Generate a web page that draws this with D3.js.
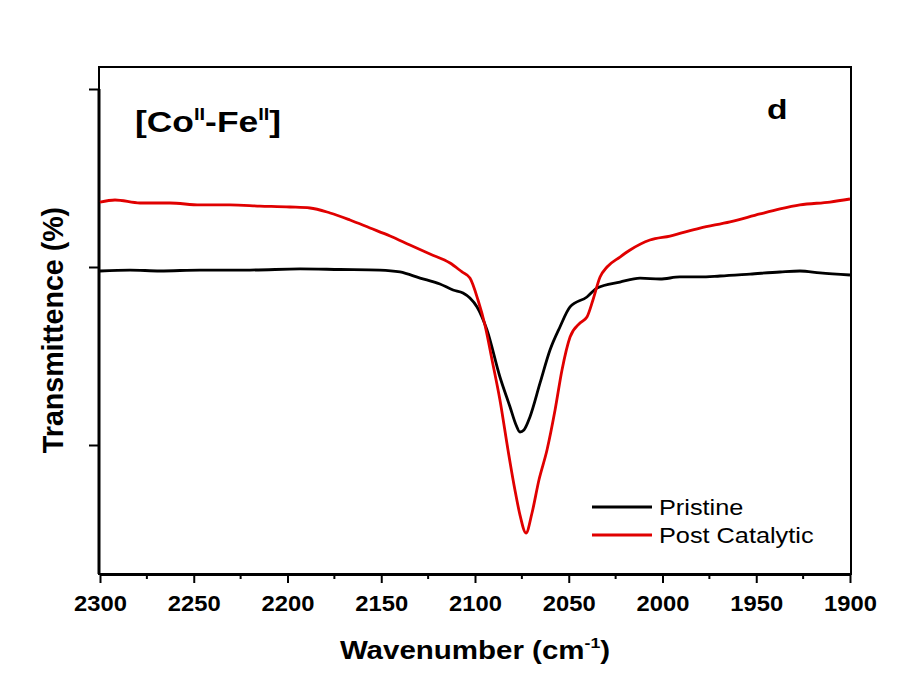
<!DOCTYPE html>
<html>
<head>
<meta charset="utf-8">
<script src="https://cdn.jsdelivr.net/npm/d3@7"></script>
<style>
  body { margin: 0; background: #fff; }
  text { font-family: "Liberation Sans", Arial, sans-serif; }
</style>
</head>
<body>
<script>
var width = 909, height = 682,
  margin = {top: 67, right: 59, bottom: 108, left: 99};

// Pristine spectrum: wavenumber (cm-1) and transmittance
var pristineWn = [2300, 2284, 2268, 2246.7, 2220, 2193.3, 2172, 2150.7, 2140, 2129.3, 2118.7, 2111.7,
  2106.4, 2102.7, 2098.9, 2093.6, 2086.7, 2081.3, 2078.1, 2076, 2073.9, 2070.7, 2065.3, 2060,
  2054.7, 2049.3, 2040.3, 2034.9, 2022.7, 2012, 2001.3, 1990.7, 1980, 1969.3, 1953.3, 1937.3,
  1926.7, 1916, 1900];
var pristineT = [59.55, 59.66, 59.55, 59.66, 59.66, 59.78, 59.72, 59.66, 59.44, 58.76, 58.09, 57.42,
  57.08, 56.52, 55.51, 52.92, 47.64, 44.27, 42.25, 41.46, 41.69, 43.15, 46.97, 50.67,
  53.26, 55.51, 56.63, 57.64, 58.31, 58.76, 58.65, 58.88, 58.88, 58.99, 59.21, 59.44,
  59.55, 59.33, 59.10];

// Post catalytic spectrum
var postWn = [2300, 2292, 2278.7, 2262.7, 2246.7, 2230.7, 2214.7, 2198.7, 2188, 2177.3, 2166.7, 2156,
  2145.3, 2134.7, 2124, 2113.3, 2106.9, 2102.7, 2098.4, 2094.7, 2090.9, 2086.7, 2082.4, 2078.7,
  2076, 2072.8, 2069.6, 2065.9, 2061.6, 2057.3, 2053.6, 2049.3, 2044, 2040.3, 2037.1, 2033.3,
  2029.6, 2022.7, 2017.3, 2006.7, 1996, 1980, 1964, 1948, 1937.3, 1926.7, 1910.7, 1900];
var postT = [67.30, 67.53, 67.19, 67.19, 66.97, 66.97, 66.85, 66.74, 66.63, 66.07, 65.28, 64.38,
  63.48, 62.47, 61.46, 60.45, 59.44, 58.76, 56.29, 53.48, 49.55, 45.06, 39.44, 34.94,
  32.13, 30.11, 32.36, 36.07, 39.44, 43.93, 48.43, 52.13, 53.71, 54.38, 56.29, 58.88,
  60.0, 61.12, 61.91, 63.03, 63.48, 64.38, 65.06, 65.96, 66.52, 66.97, 67.30, 67.64];

var xTicks = [2300, 2250, 2200, 2150, 2100, 2050, 2000, 1950, 1900];
var xMinor = [2275, 2225, 2175, 2125, 2075, 2025, 1975, 1925];
var yTicks = [40, 60, 80];

var series = [
  {name: "Pristine", wn: pristineWn, t: pristineT, color: "#000000"},
  {name: "Post Catalytic", wn: postWn, t: postT, color: "#e00000"}
];

var svg = d3.select("body").append("svg")
  .attr("width", width)
  .attr("height", height);

var iw = width - margin.left - margin.right,
  ih = height - margin.top - margin.bottom;

var x = d3.scaleLinear().domain([2300, 1900]).range([margin.left + 1, margin.left + 1 + 750]);
var y = d3.scaleLinear().domain([40, 80]).range([445, 89]);

// frame
svg.append("rect")
  .attr("x", margin.left).attr("y", margin.top)
  .attr("width", iw + 1).attr("height", ih)
  .attr("fill", "none").attr("stroke", "#000").attr("stroke-width", 2);

// bottom axis
var xAxis = svg.append("g")
  .attr("transform", "translate(0," + (margin.top + ih) + ")")
  .call(d3.axisBottom(x).tickValues(xTicks).tickSize(9).tickSizeOuter(0).tickFormat(d3.format("d")));
xAxis.select(".domain").attr("stroke-width", 3);
xAxis.selectAll(".tick line").attr("stroke-width", 2);
xAxis.selectAll(".tick text")
  .attr("y", 0).attr("dy", 0)
  .attr("transform", "translate(0,37) scale(1.08,1)")
  .style("font-size", "22px").style("font-weight", "bold").attr("fill", "#000");

svg.append("g")
  .attr("transform", "translate(0," + (margin.top + ih) + ")")
  .selectAll("line").data(xMinor).enter().append("line")
  .attr("x1", (d) => x(d)).attr("x2", (d) => x(d))
  .attr("y1", 0).attr("y2", 5)
  .attr("stroke", "#000").attr("stroke-width", 2);

// left axis (no labels)
var yAxis = svg.append("g")
  .attr("transform", "translate(" + margin.left + ",0)")
  .call(d3.axisLeft(y).tickValues(yTicks).tickSize(10).tickFormat(""));
yAxis.select(".domain").remove();
yAxis.selectAll(".tick line").attr("stroke-width", 2);
svg.append("line")
  .attr("x1", margin.left).attr("x2", margin.left)
  .attr("y1", y(80)).attr("y2", margin.top + ih)
  .attr("stroke", "#000").attr("stroke-width", 3);

// curves
var line = d3.line()
  .x((d) => x(d[0]))
  .y((d) => y(d[1]))
  .curve(d3.curveMonotoneX);

series.forEach((s) => {
  svg.append("path")
    .datum(d3.zip(s.wn, s.t))
    .attr("d", line)
    .attr("fill", "none")
    .attr("stroke", s.color)
    .attr("stroke-width", 2.8)
    .attr("stroke-linejoin", "round");
});

// legend
var legend = svg.append("g").attr("transform", "translate(592,507)");
series.forEach((s, i) => {
  legend.append("line")
    .attr("x1", 0).attr("x2", 60)
    .attr("y1", i * 28).attr("y2", i * 28)
    .attr("stroke", s.color).attr("stroke-width", 3);
  legend.append("text")
    .attr("transform", "translate(67," + (i * 28 + 8) + ") scale(1.15,1)")
    .style("font-size", "22px")
    .text(s.name);
});

// annotations
var title = svg.append("text")
  .attr("transform", "translate(135,132) scale(1.18,1)")
  .style("font-size", "30px").style("font-weight", "bold");
title.append("tspan").text("[Co");
title.append("tspan").attr("dy", -12).style("font-size", "17px").text("II");
title.append("tspan").attr("dy", 12).text("-Fe");
title.append("tspan").attr("dy", -12).style("font-size", "17px").text("II");
title.append("tspan").attr("dy", 12).text("]");

svg.append("text")
  .attr("transform", "translate(767,119) scale(1.2,1)")
  .style("font-size", "28px").style("font-weight", "bold")
  .text("d");

// axis titles
var xl = svg.append("text")
  .attr("transform", "translate(475,659) scale(1.18,1)")
  .attr("text-anchor", "middle")
  .style("font-size", "25px").style("font-weight", "bold");
xl.append("tspan").text("Wavenumber (cm");
xl.append("tspan").attr("dy", -11).style("font-size", "15px").text("-1");
xl.append("tspan").attr("dy", 11).text(")");

svg.append("text")
  .attr("transform", "translate(63,330) rotate(-90) scale(1.1,1.15)")
  .attr("text-anchor", "middle")
  .style("font-size", "26px").style("font-weight", "bold")
  .text("Transmittence (%)");
</script>
</body>
</html>
